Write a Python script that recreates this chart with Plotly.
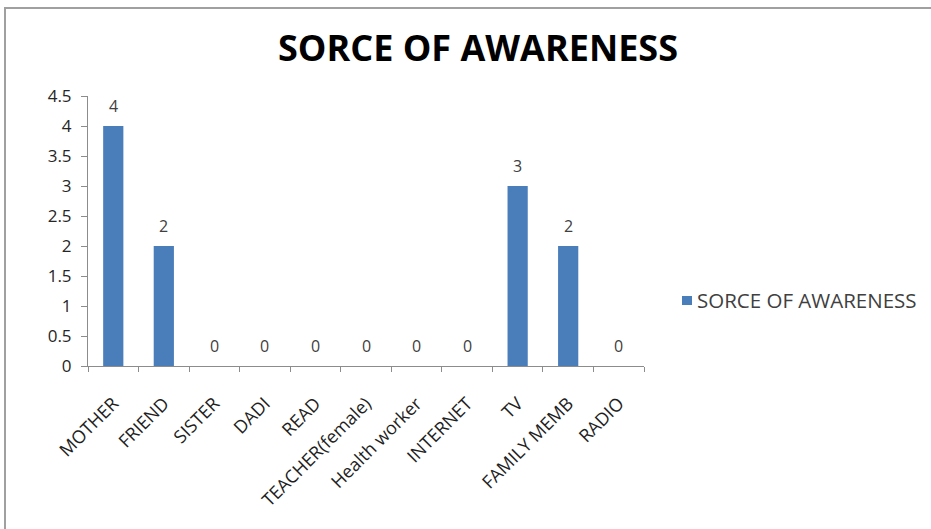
import plotly.graph_objects as go

categories = ["MOTHER", "FRIEND", "SISTER", "DADI", "READ", "TEACHER(female)",
              "Health worker", "INTERNET", "TV", "FAMILY MEMB", "RADIO"]
values = [4, 2, 0, 0, 0, 0, 0, 0, 3, 2, 0]
series_name = "SORCE OF AWARENESS"
y_ticks = [0, 0.5, 1, 1.5, 2, 2.5, 3, 3.5, 4, 4.5]

FONT = "Open Sans, Lato, sans-serif"
BAR = "#4A7EBB"
AXIS = "#8C8C8C"

# plot area in pixels
L, R, T, B = 88, 644, 96, 366
W, H = 931, 529


def px_x(px):
    return (px - L) / (R - L)


def px_y(py):
    return (B - py) / (B - T)


fig = go.Figure()
fig.add_trace(go.Bar(
    x=categories,
    y=values,
    name=series_name,
    marker=dict(color=BAR, line=dict(width=0)),
    showlegend=False,
))

# value labels sitting a little above each bar
for cat, val in zip(categories, values):
    fig.add_annotation(
        x=cat, y=val, xref="x", yref="y",
        text=str(val), showarrow=False,
        yanchor="middle", yshift=20,
        font=dict(family=FONT, size=16, color="#404040"),
    )

# legend: square swatch plus series name
fig.add_annotation(
    x=px_x(695), y=px_y(300), xref="paper", yref="paper",
    text=series_name, showarrow=False,
    xanchor="left", yanchor="middle",
    font=dict(family=FONT, size=20.5, color="#404040"),
)

fig.update_layout(
    width=W,
    height=H,
    paper_bgcolor="white",
    plot_bgcolor="white",
    margin=dict(l=L, r=W - R, t=T, b=H - B),
    bargap=0.6,
    showlegend=False,
    title=dict(
        text="<b>SORCE OF AWARENESS</b>",
        font=dict(family=FONT, size=36, color="#000000"),
        x=478 / W, xref="container", xanchor="center",
        y=1 - 48 / H, yref="container", yanchor="middle",
    ),
    xaxis=dict(
        type="category",
        tickangle=-45,
        tickfont=dict(family=FONT, size=18, color="#1F1F1F"),
        showline=True, linecolor=AXIS, linewidth=1,
        ticks="outside", tickson="boundaries", ticklen=5, tickcolor=AXIS,
        ticklabelstandoff=19,
        showgrid=False, zeroline=False,
        fixedrange=True,
    ),
    yaxis=dict(
        range=[0, 4.5],
        tickvals=y_ticks,
        ticktext=[f"{t:g}" for t in y_ticks],
        tickfont=dict(family=FONT, size=17, color="#262626"),
        showline=True, linecolor=AXIS, linewidth=1,
        ticks="outside", ticklen=6, tickcolor=AXIS,
        ticklabelstandoff=6,
        showgrid=False, zeroline=False,
        fixedrange=True,
    ),
    shapes=[
        dict(
            type="rect", xref="paper", yref="paper",
            x0=px_x(5), x1=px_x(935), y0=px_y(535), y1=px_y(8),
            line=dict(color="#A0A0A0", width=2),
            fillcolor="rgba(0,0,0,0)", layer="below",
        ),
        dict(
            type="rect", xref="paper", yref="paper",
            x0=px_x(682), x1=px_x(692), y0=px_y(305), y1=px_y(296),
            line=dict(width=0), fillcolor=BAR,
        ),
    ],
)

fig.write_html("out.html")
